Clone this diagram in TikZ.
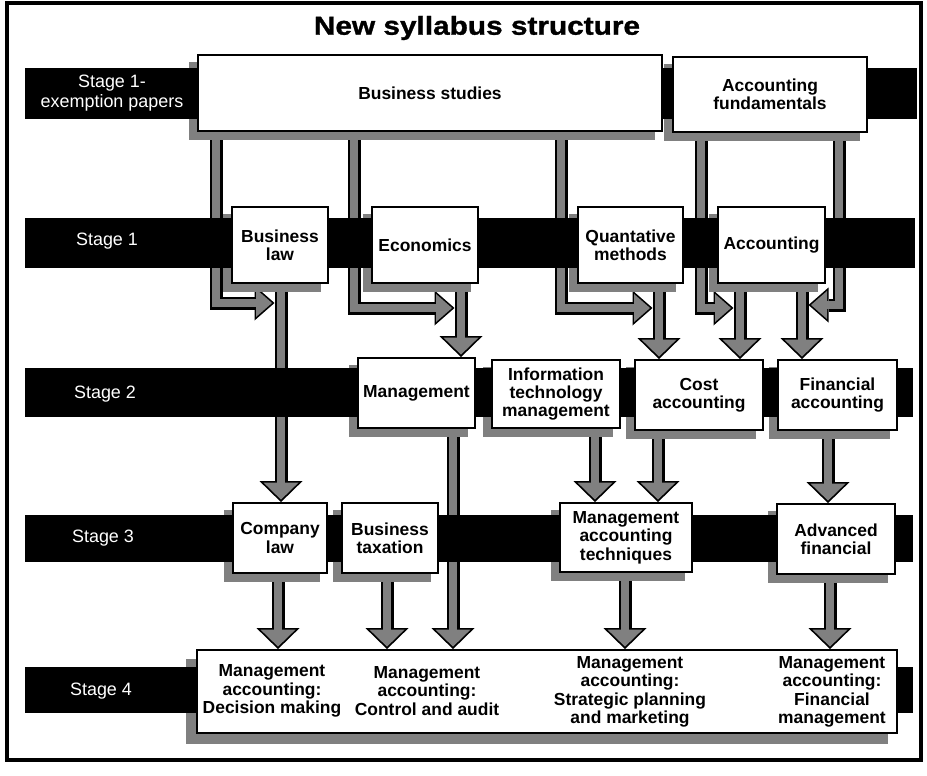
\documentclass[tikz,border=0pt]{standalone}
\usepackage{fontspec}
\setmainfont{Liberation Sans}
\newfontfamily\titlefont{Liberation Sans}[FakeStretch=1.15,FakeBold=1.2]
\usetikzlibrary{arrows.meta}
\colorlet{stip}{black!50}
\pgfdeclarelayer{bg}
\pgfdeclarelayer{arrowlayer}
\pgfdeclarelayer{shadowlayer}
\pgfdeclarelayer{barlayer}
\pgfsetlayers{bg,arrowlayer,shadowlayer,barlayer,main}
\tikzset{
  box/.style={draw=black, line width=1.8bp, fill=white, inner sep=2bp, align=center,
    font=\fontsize{17.5}{18.5}\selectfont\bfseries},
  plaintext/.style={inner sep=0pt, align=center, font=\fontsize{17.5}{18.5}\selectfont\bfseries},
  stagelabel/.style={text=white, inner sep=0pt, align=center, font=\fontsize{18}{19.5}\selectfont},
  barfill/.style={fill=black},
  shadowfill/.style={fill=stip},
  flow/.style={draw=black, line width=13bp, line join=miter,
    -{Triangle[width=43bp,length=21bp,line width=0pt]},
    postaction={draw=stip, line width=8.5bp,
      -{Triangle[width=35bp,length=17bp,line width=0pt]}, shorten >=2.5bp}},
  flowh/.style={draw=black, line width=13bp, line join=miter,
    -{Triangle[width=35bp,length=20bp,line width=0pt]},
    postaction={draw=stip, line width=8.5bp,
      -{Triangle[width=28bp,length=16bp,line width=0pt]}, shorten >=2.5bp}},
}
\begin{document}
\begin{tikzpicture}[x=1bp,y=-1bp]
\useasboundingbox (0,0) rectangle (927,776);

% title
\node[font=\titlefont\bfseries\fontsize{26}{28}\selectfont, inner sep=0pt] (title) at (477,28) {New syllabus structure};

% boxes
\node[box, minimum width=464bp, minimum height=76bp] (bs) at (430,93) {Business studies};
\node[box, minimum width=194bp, minimum height=75bp] (af) at (770,94.5) {Accounting\\fundamentals};
\node[box, minimum width=96bp, minimum height=76bp] (bl) at (280,245) {Business\\law};
\node[box, minimum width=106bp, minimum height=76bp] (ec) at (425,245) {Economics};
\node[box, minimum width=105bp, minimum height=76bp] (qm) at (630.5,245) {Quantative\\methods};
\node[box, minimum width=107bp, minimum height=76bp] (ac) at (771.5,245) {Accounting};
\node[box, minimum width=117bp, minimum height=70bp] (mg) at (416.5,393) {Management};
\node[box, minimum width=128bp, minimum height=68bp] (it) at (556,394) {Information\\technology\\management};
\node[box, minimum width=128bp, minimum height=70bp] (ca) at (699,395) {Cost\\accounting};
\node[box, minimum width=119bp, minimum height=70bp] (fa) at (837.5,395) {Financial\\accounting};
\node[box, minimum width=94bp, minimum height=70bp] (cl) at (280,538) {Company\\law};
\node[box, minimum width=96bp, minimum height=70bp] (bt) at (390,538) {Business\\taxation};
\node[box, minimum width=132bp, minimum height=69bp] (mat) at (626,537.5) {Management\\accounting\\techniques};
\node[box, minimum width=118bp, minimum height=70bp] (adv) at (836,539) {Advanced\\financial};
\node[box, minimum width=700bp, minimum height=83bp] (s4) at (547,691.5) {};
\node[plaintext] (t1) at (272,691) {Management\\accounting:\\Decision making};
\node[plaintext] (t2) at (427,691) {Management\\accounting:\\Control and audit};
\node[plaintext] (t3) at (630,692) {Management\\accounting:\\Strategic planning\\and marketing};
\node[plaintext] (t4) at (832,692) {Management\\accounting:\\Financial\\management};

% stage labels
\node[stagelabel] (l0) at (112,93) {Stage 1-\\exemption papers};
\node[stagelabel] (l1) at (107,241) {Stage 1};
\node[stagelabel] (l2) at (105,394) {Stage 2};
\node[stagelabel] (l3) at (103,538) {Stage 3};
\node[stagelabel] (l4) at (101,691) {Stage 4};

\begin{pgfonlayer}{bg}
  \fill[white] (0,0) rectangle (927,776);
\end{pgfonlayer}

\begin{pgfonlayer}{barlayer}
  \fill[barfill] (25,68) rectangle (917,119);
  \fill[barfill] (25,218) rectangle (915,268);
  \fill[barfill] (25,368) rectangle (913,417);
  \fill[barfill] (25,515) rectangle (913,562);
  \fill[barfill] (25,667) rectangle (913,713);
\end{pgfonlayer}

\begin{pgfonlayer}{shadowlayer}
  \foreach \n in {bs,af,bl,ec,qm,ac,mg,it,ca,fa,cl,bt,mat,adv}{
    \fill[shadowfill] ([shift={(-8,8)}]\n.south west) rectangle ([shift={(-8,8)}]\n.north east);
  }
  \fill[shadowfill] ([shift={(-10,10)}]s4.south west) rectangle ([shift={(-10,10)}]s4.north east);
\end{pgfonlayer}

\begin{pgfonlayer}{arrowlayer}
  % prerequisites merging into stage-1 lines
  \draw[flowh] (216,0 |- bs.south) |- (274.5,303);
  \draw[flowh] (354,0 |- bs.south) |- (454.5,308);
  \draw[flowh] (561,0 |- bs.south) |- (652.5,308);
  \draw[flowh] (701,0 |- af.south) |- (733.5,308);
  \draw[flowh] (839,0 |- af.south) |- (808.5,305);
  % stage 1 -> stage 2 / 3
  \draw[flow] (281,0 |- bl.south) -- (281,0 |- cl.north);
  \draw[flow] (461,0 |- ec.south) -- (461,0 |- mg.north);
  \draw[flow] (659,0 |- qm.south) -- (659,0 |- ca.north);
  \draw[flow] (740,0 |- ac.south) -- (740,0 |- ca.north);
  \draw[flow] (802,0 |- ac.south) -- (802,0 |- fa.north);
  % stage 2 -> stage 3 / 4
  \draw[flow] (453,0 |- mg.south) -- (453,0 |- s4.north);
  \draw[flow] (595,0 |- it.south) -- (595,0 |- mat.north);
  \draw[flow] (658,0 |- ca.south) -- (658,0 |- mat.north);
  \draw[flow] (828,0 |- fa.south) -- (828,0 |- adv.north);
  % stage 3 -> stage 4
  \draw[flow] (278,0 |- cl.south) -- (278,0 |- s4.north);
  \draw[flow] (387,0 |- bt.south) -- (387,0 |- s4.north);
  \draw[flow] (625,0 |- mat.south) -- (625,0 |- s4.north);
  \draw[flow] (830,0 |- adv.south) -- (830,0 |- s4.north);
\end{pgfonlayer}

% frame
\draw[line width=4bp] (7,3.5) rectangle (921,760);
\end{tikzpicture}
\end{document}
